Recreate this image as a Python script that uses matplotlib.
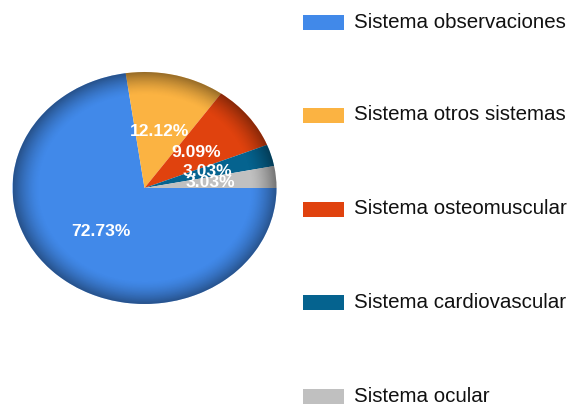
import matplotlib
matplotlib.use("Agg")
import matplotlib.pyplot as plt
from matplotlib.patches import Circle, Rectangle
import numpy as np

plt.rcParams["font.family"] = ["Liberation Sans", "DejaVu Sans"]

labels = ["Sistema observaciones", "Sistema otros sistemas", "Sistema osteomuscular",
          "Sistema cardiovascular", "Sistema ocular"]
counts = [24, 4, 3, 1, 1]
colors = ["#4189E9", "#FBB342", "#E0420E", "#05638F", "#C0C0C0"]

W, H = 573, 405
fig = plt.figure(figsize=(W / 100, H / 100), dpi=100, facecolor="white")

# pie drawn in a stretched axes so it comes out as an ellipse
px = lambda l, t, r, b: [l / W, 1 - b / H, (r - l) / W, (b - t) / H]
ax = fig.add_axes(px(12.5, 72, 276.5, 304))
wedges, _, autotexts = ax.pie(counts, colors=colors, startangle=0, counterclock=False,
                              autopct="%.2f%%", pctdistance=0.5, radius=1,
                              wedgeprops=dict(linewidth=0),
                              textprops=dict(color="white", fontsize=12.6, fontweight="bold"))
ax.set_aspect("auto")
ax.set_xlim(-1, 1); ax.set_ylim(-1, 1)
ax.axis("off")

# darker rim for the bevelled look
g = np.linspace(-1, 1, 400)
xx, yy = np.meshgrid(g, g)
rr = np.hypot(xx, yy)
shade = np.zeros((400, 400, 4))
shade[..., 3] = np.clip((rr - 0.80) / 0.20, 0, 1) ** 1.5 * 0.40
im = ax.imshow(shade, extent=(-1, 1, -1, 1), origin="lower", zorder=3, interpolation="bilinear")
im.set_clip_path(Circle((0, 0), 1, transform=ax.transData))
ax.set_aspect("auto")
for t in autotexts:
    t.set_zorder(5)

# legend on the right, one entry per row
row_y = [22, 115, 209, 302, 396]
for lab, col, yc in zip(labels, colors, row_y):
    fig.add_artist(Rectangle((303 / W, 1 - (yc + 7.5) / H), 41 / W, 15 / H,
                             transform=fig.transFigure, facecolor=col, edgecolor="none"))
    fig.text(354 / W, 1 - yc / H, lab, fontsize=14.8, color="#111111", va="center", ha="left")

fig.savefig("out.png", dpi=100, facecolor="white")
